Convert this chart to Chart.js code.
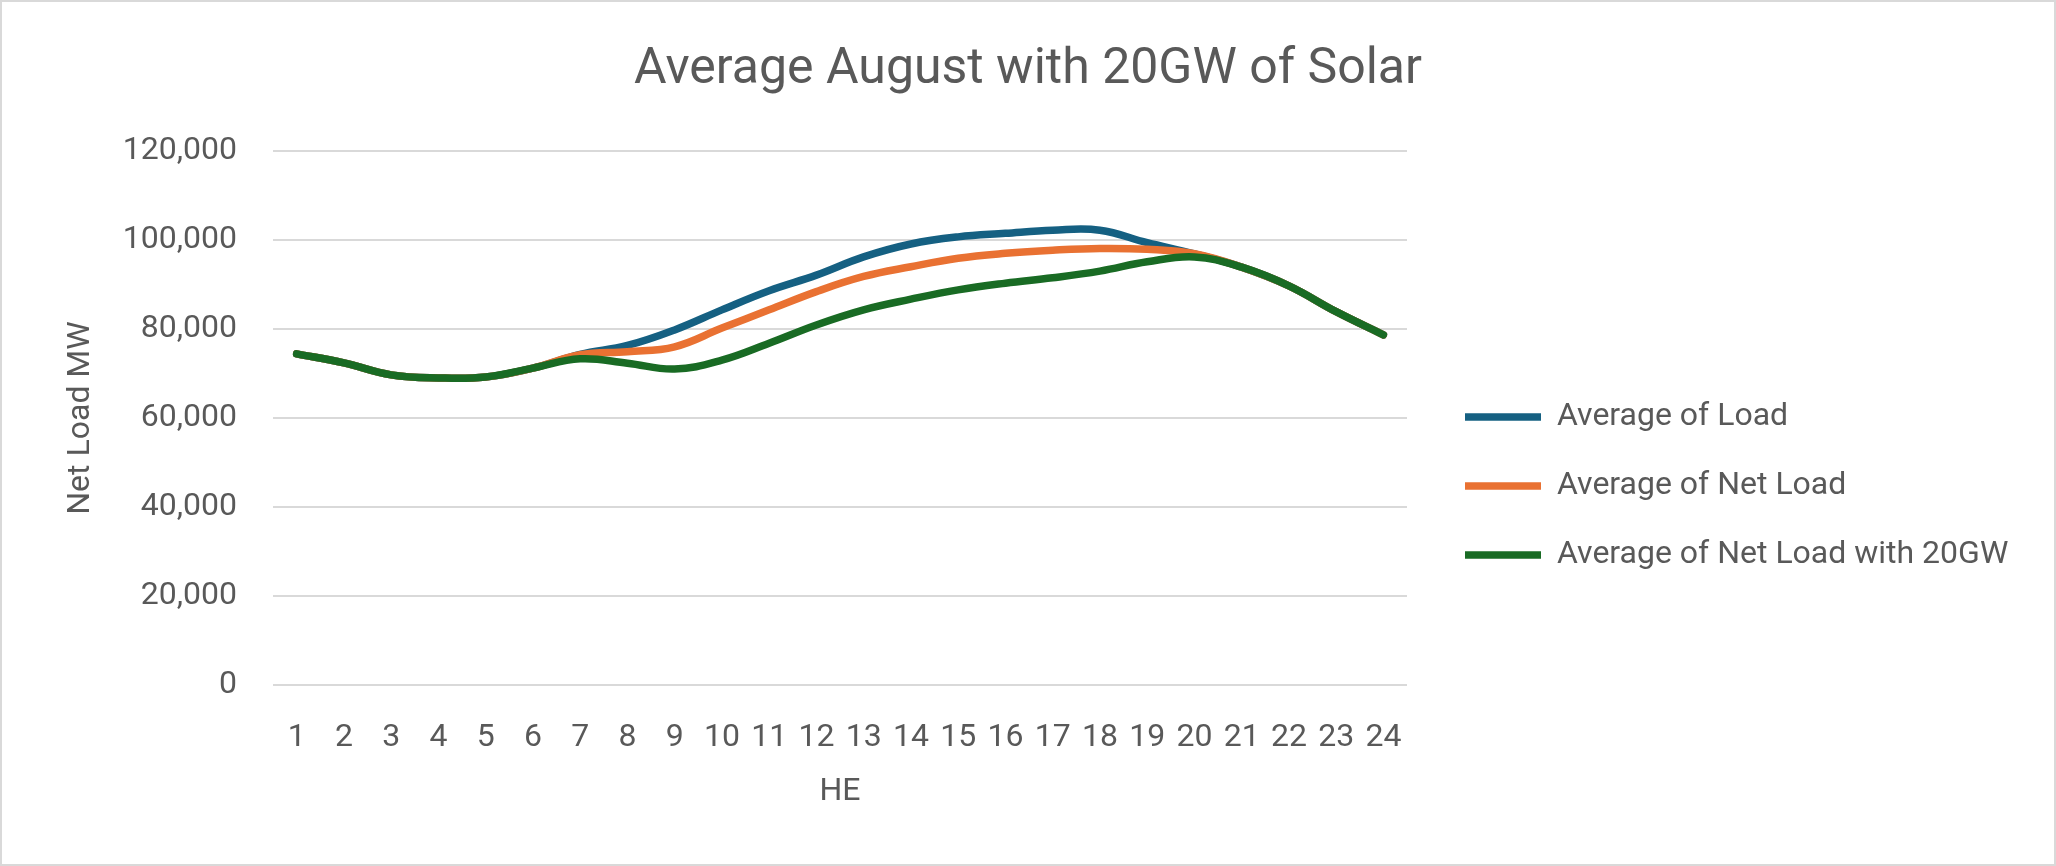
<!DOCTYPE html>
<html>
<head>
<meta charset="utf-8">
<title>Average August with 20GW of Solar</title>
<script src="https://cdn.jsdelivr.net/npm/chart.js@4.4.1/dist/chart.umd.min.js"></script>
<style>
  html, body { margin: 0; padding: 0; background: #fff; }
  #wrap { width: 2056px; height: 866px; box-sizing: border-box; border: 2px solid #d9d9d9; }
</style>
</head>
<body>
<div id="wrap"><canvas id="chart"></canvas></div>
<script>
// Hour ending
const hours = ['1', '2', '3', '4', '5', '6', '7', '8', '9', '10', '11', '12',
               '13', '14', '15', '16', '17', '18', '19', '20', '21', '22', '23', '24'];

// MW values
const avgLoad = [74400, 72400, 69700, 69000, 69200, 71200, 74300, 76300, 79800, 84300, 88600, 92100,
                 96200, 99100, 100700, 101500, 102200, 102200, 99400, 96900, 93900, 89700, 83900, 78700];
const avgNetLoad = [74400, 72400, 69700, 69000, 69200, 71200, 74200, 74900, 76000, 80200, 84300, 88400,
                    91800, 94000, 95900, 97000, 97700, 98100, 97900, 96900, 93900, 89700, 83900, 78700];
const avgNet20GW = [74400, 72400, 69700, 69000, 69200, 71200, 73300, 72300, 71000, 73000, 76800, 80900,
                    84300, 86700, 88800, 90300, 91500, 93000, 95100, 96200, 93900, 89700, 83900, 78700];

const yTicks = [0, 20000, 40000, 60000, 80000, 100000, 120000];

const seriesNames = ['Average of Load', 'Average of Net Load', 'Average of Net Load with 20GW'];
const seriesColors = ['#156082', '#E97132', '#196B24'];

const textGray = '#595959';
Chart.defaults.font.family = 'Roboto, "Open Sans", sans-serif';
Chart.defaults.color = textGray;

// legend sits to the right of the plot, a bit lower than centred
const legendSpot = {
    id: 'legendSpot',
    beforeLayout(chart, args, opts) {
        const lg = chart.legend;
        if (lg && !lg._fixedWidth) {
            const fit = lg.fit;
            lg.fit = function () { fit.call(this); this.width = opts.width; };
            lg._fixedWidth = true;
        }
    },
    afterLayout(chart, args, opts) {
        const lg = chart.legend;
        lg.left += opts.dx; lg.right += opts.dx;
        lg.top += opts.dy; lg.bottom += opts.dy;
    }
};

function lineSet(i, data, order) {
    return {
        label: seriesNames[i],
        data: data,
        borderColor: seriesColors[i],
        backgroundColor: seriesColors[i],
        borderWidth: 7.5,
        borderCapStyle: 'round',
        borderJoinStyle: 'round',
        pointRadius: 0,
        tension: 0.4,
        fill: false,
        order: order
    };
}

const ctx = document.getElementById('chart').getContext('2d');
const chart = new Chart(ctx, {
    type: 'line',
    data: {
        labels: hours,
        datasets: [
            lineSet(0, avgLoad, 3),
            lineSet(1, avgNetLoad, 2),
            lineSet(2, avgNet20GW, 1)
        ]
    },
    plugins: [legendSpot],
    options: {
        responsive: true,
        maintainAspectRatio: false,
        animation: false,
        locale: 'en-US',
        layout: { padding: 0 },
        scales: {
            x: {
                offset: true,
                grid: { display: false },
                border: { display: false },
                ticks: {
                    font: { size: 32 },
                    color: textGray,
                    padding: 26,
                    maxRotation: 0,
                    autoSkip: false
                },
                title: {
                    display: true,
                    text: 'HE',
                    font: { size: 32 },
                    color: textGray,
                    padding: { top: 0, bottom: 53 }
                },
                afterFit: s => { s.height = 179; }
            },
            y: {
                min: 0,
                max: 120000,
                afterBuildTicks: s => { s.ticks = yTicks.map(v => ({ value: v })); },
                grid: { color: '#d9d9d9', lineWidth: 2, drawTicks: false },
                border: { display: false },
                ticks: {
                    font: { size: 32 },
                    color: textGray,
                    padding: 36
                },
                title: {
                    display: true,
                    text: 'Net Load MW',
                    font: { size: 32 },
                    color: textGray,
                    padding: { top: 60, bottom: 0 }
                },
                afterFit: s => { s.width = 271; }
            }
        },
        plugins: {
            title: {
                display: true,
                text: 'Average August with 20GW of Solar',
                font: { size: 50, weight: 'normal' },
                color: textGray,
                padding: { top: 38, bottom: 51 }
            },
            legend: {
                position: 'right',
                labels: {
                    usePointStyle: true,
                    pointStyle: 'line',
                    pointStyleWidth: 76,
                    padding: 37,
                    color: textGray,
                    font: { size: 32 },
                    sort: (a, b) => a.datasetIndex - b.datasetIndex
                }
            },
            legendSpot: { width: 647, dx: 21, dy: 53 },
            tooltip: { enabled: false }
        }
    }
});
</script>
</body>
</html>
